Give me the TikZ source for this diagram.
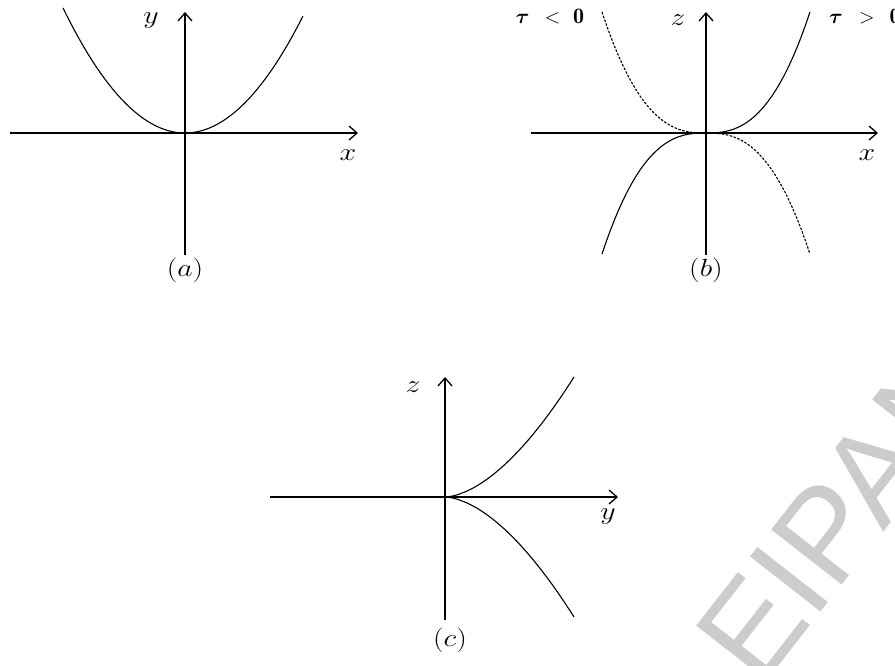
\documentclass[tikz,border=0pt]{standalone}
\usepackage{amsmath}
\usepackage{fontspec}
\newfontfamily\wmfont{Liberation Sans}
\usetikzlibrary{arrows.meta}
\begin{document}
\begin{tikzpicture}[x=1pt,y=-1pt,
  axis/.style={line width=1.3pt,-{Straight Barb[length=8pt,width=14pt,line width=1.3pt]}},
  curve/.style={line width=1.1pt},
  dcurve/.style={line width=1.1pt,dash pattern=on 2.5pt off 1.5pt},
  lab/.style={font=\fontsize{28}{30}\selectfont,xscale=1.2,inner sep=0pt},
  small/.style={font=\fontsize{22}{24}\selectfont,inner sep=0pt},
  wm/.style={font=\wmfont\fontsize{130}{130}\selectfont,text=black!20,inner sep=0pt}]
\useasboundingbox (0,0) rectangle (895,666);
\begin{scope}
\clip (0,0) rectangle (895,666);
\node[wm,rotate=52,anchor=base west] (wm) at (760,690) {EIPAN};
\end{scope}
% (a)
\coordinate (aL) at (10,133); \coordinate (aR) at (358,133);
\coordinate (aB) at (185,255); \coordinate (aT) at (185,12);
\draw[axis] (aL) -- (aR);
\draw[axis] (aB) -- (aT);
\draw[curve] plot[domain=-122:118,samples=80] ({185+\x},{133-121*(\x/120)*(\x/120)});
\node[lab] (ya) at (151,21) {$y$};
\node[lab] (xa) at (348,155) {$x$};
\node[lab] (capa) at (185,270) {$(a)$};
% (b)
\coordinate (bL) at (531,133); \coordinate (bR) at (878,133);
\coordinate (bB) at (706,255); \coordinate (bT) at (706,12);
\draw[axis] (bL) -- (bR);
\draw[axis] (bB) -- (bT);
\draw[curve] plot[domain=-1:1,samples=50] ({706+104*(\x)},{133-121*(\x)*abs(\x)^1.6});
\draw[dcurve] plot[domain=-1:1,samples=50] ({706+104*(\x)},{133+121*(\x)*abs(\x)^1.6});
\node[small] (tneg) at (550,17) {$\boldsymbol{\tau}\mskip8mu<\mskip6mu\mathbf{0}$};
\node[small,anchor=west] (tpos) at (829,17) {$\boldsymbol{\tau}\mskip9mu>\mskip8mu\mathbf{0}$};
\node[lab] (zb) at (678,20) {$z$};
\node[lab] (xb) at (867,155) {$x$};
\node[lab] (capb) at (706,270) {$(b)$};
% (c)
\coordinate (Oc) at (445,497);
\coordinate (cL) at (270,497); \coordinate (cR) at (618,497);
\coordinate (cB) at (445,620); \coordinate (cT) at (445,377);
\draw[axis] (cL) -- (cR);
\draw[axis] (cB) -- (cT);
\draw[curve] (Oc) -- plot[domain=0.01:1,samples=50] ({445+129*\x},{497-120*\x^1.7});
\draw[curve] (Oc) -- plot[domain=0.01:1,samples=50] ({445+129*\x},{497+120*\x^1.7});
\node[lab] (zc) at (413,387) {$z$};
\node[lab] (yc) at (608,517) {$y$};
\node[lab] (capc) at (450,640) {$(c)$};
\end{tikzpicture}
\end{document}
